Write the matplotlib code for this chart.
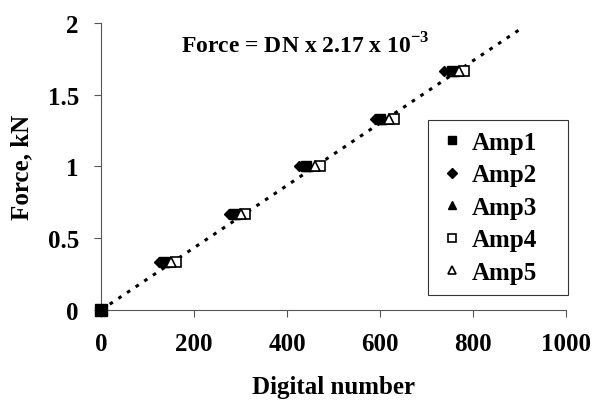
import numpy as np
from matplotlib import pyplot as plt

plt.rcParams['font.family'] = 'Liberation Serif'
plt.rcParams['font.weight'] = 'bold'
plt.rcParams['mathtext.fontset'] = 'custom'
plt.rcParams['mathtext.rm'] = 'Liberation Serif:bold'
plt.rcParams['mathtext.bf'] = 'Liberation Serif:bold'

# force levels (kN) and digital numbers read per amplifier
force = [0, 0.333, 0.667, 1.0, 1.333, 1.667]
dn_amp1 = [0, 135, 285, 440, 600, 755]
dn_amp2 = [0, 125, 275, 425, 590, 738]
dn_amp3 = [0, 140, 290, 445, 605, 760]
dn_amp4 = [0, 160, 310, 470, 630, 780]
dn_amp5 = [0, 150, 300, 460, 620, 770]
fit_dn = [0, 900]
slope = 2.17e-3

fig = plt.figure(figsize=(5.95, 4.06), dpi=100)
ax = fig.add_axes([0.170, 0.234, 0.781, 0.707])

ax.plot(fit_dn, [d * slope for d in fit_dn], color='black', ls=(0, (1.2, 2.2)),
        lw=2.2, zorder=1)

ax.plot(dn_amp1, force, 's', color='black', ms=6.5, label='Amp1', ls='none',
        clip_on=False)
ax.plot(dn_amp2, force, 'D', color='black', ms=5.5, label='Amp2', ls='none',
        clip_on=False)
ax.plot(dn_amp3, force, '^', color='black', ms=6.5, label='Amp3', ls='none',
        clip_on=False)
ax.plot(dn_amp4, force, 's', mfc='white', mec='black', mew=1.2, ms=6.5,
        label='Amp4', ls='none', clip_on=False)
ax.plot(dn_amp5, force, '^', mfc='white', mec='black', mew=1.2, ms=6.5,
        label='Amp5', ls='none', clip_on=False)
# the origin point is drawn as a filled square on top
ax.plot(dn_amp1[:1], force[:1], 's', color='black', ms=8, ls='none',
        clip_on=False, zorder=5)

ax.set_xlim(0, 1000)
ax.set_ylim(0, 2)
ax.set_xticks([0, 200, 400, 600, 800, 1000])
ax.set_yticks([0, 0.5, 1, 1.5, 2])
ax.set_yticklabels(['0', '0.5', '1', '1.5', '2'])
ax.spines['top'].set_visible(False)
ax.spines['right'].set_visible(False)
ax.spines['left'].set_linewidth(0.8)
ax.spines['bottom'].set_linewidth(0.8)
ax.spines['left'].set_color('#555555')
ax.spines['bottom'].set_color('#555555')
ax.tick_params(direction='out', length=5, width=0.8, labelsize=18,
               color='#555555', pad=11)
ax.set_xlabel('Digital number', fontsize=18, fontweight='bold', labelpad=14)
ax.set_ylabel('Force, kN', fontsize=18, fontweight='bold', labelpad=10)

ax.text(440, 1.85, r'Force = DN x 2.17 x 10$^{-3}$', fontsize=17,
        fontweight='bold', ha='center', va='center')

leg = ax.legend(loc='lower left', bbox_to_anchor=(0.703, 0.052, 0.301, 0.6),
                mode='expand', borderaxespad=0, fontsize=18,
                frameon=True, fancybox=False, edgecolor='black',
                handletextpad=0.3, borderpad=0.45, labelspacing=0.38,
                handlelength=1.0, markerscale=0.9)
leg.get_frame().set_linewidth(0.8)

fig.savefig('out.png', dpi=100)
